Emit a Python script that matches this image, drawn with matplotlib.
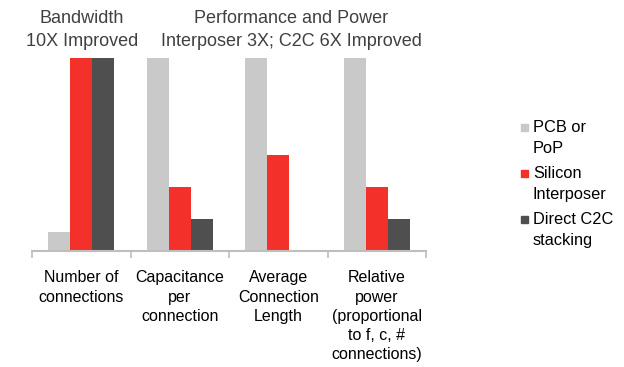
import matplotlib
matplotlib.use('Agg')
import matplotlib.pyplot as plt
from matplotlib.patches import Rectangle
import numpy as np

plt.rcParams['font.family'] = ['Liberation Sans', 'DejaVu Sans']

# categories and values (relative, max = 1)
categories = ['Number of\nconnections', 'Capacitance\nper\nconnection',
              'Average\nConnection\nLength',
              'Relative\npower\n(proportional\nto f, c, #\nconnections)']
series = ['PCB or\nPoP', 'Silicon\nInterposer', 'Direct C2C\nstacking']
pcb = [0.10, 1.0, 1.0, 1.0]
interposer = [1.0, 0.33, 0.50, 0.33]
c2c = [1.0, 0.165, 0.005, 0.168]
colors = ['#C9C9C9', '#F3302A', '#4F4F4F']
text_color = '#404040'

fig = plt.figure(figsize=(6.24, 3.67), dpi=100)
ax = fig.add_axes([32/624, (367-251)/367, (426-32)/624, (251-58)/367])

x = np.arange(len(categories))
w = 0.223
for i, vals in enumerate([pcb, interposer, c2c]):
    ax.bar(x + (i - 1) * w, vals, w, color=colors[i])

ax.set_xlim(-0.5, len(categories) - 0.5)
ax.set_ylim(0, 1)
ax.set_yticks([])
for s in ['top', 'right', 'left']:
    ax.spines[s].set_visible(False)
ax.spines['bottom'].set_color('#BEBEBE')
ax.spines['bottom'].set_linewidth(1.5)

ax.set_xticks(x)
ax.set_xticklabels(categories, fontsize=11.5, color='black', va='top',
                   linespacing=1.35)
ax.tick_params(axis='x', which='major', length=0, pad=14)
ax.set_xticks(np.arange(-0.5, len(categories)), minor=True)
ax.tick_params(axis='x', which='minor', length=5, width=1.2, color='#BEBEBE')

# group titles
fig.text(82/624, 1 - 30/367, 'Bandwidth\n10X Improved', ha='center', va='center',
         fontsize=13, color=text_color, linespacing=1.45)
fig.text(291/624, 1 - 30/367, 'Performance and Power\nInterposer 3X; C2C 6X Improved',
         ha='center', va='center', fontsize=13, color=text_color, linespacing=1.45)

# legend, square aligned with the first line of each entry
for i, name in enumerate(series):
    y_line = 127 + 46 * i
    fig.patches.append(Rectangle((521/624, 1 - (y_line + 3.5)/367), 7/624, 7/367,
                                 transform=fig.transFigure, color=colors[i]))
    fig.text(533/624, 1 - (y_line - 6.5)/367, name, ha='left', va='top',
             fontsize=11.8, color='black', linespacing=1.42)

fig.savefig('out.png', dpi=100)
